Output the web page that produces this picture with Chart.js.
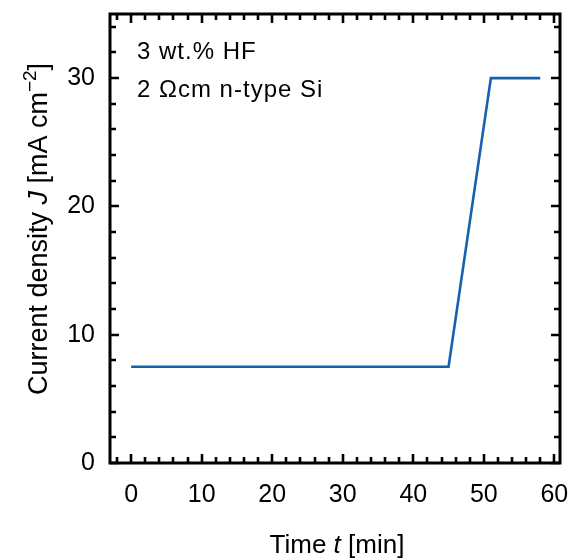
<!DOCTYPE html>
<html>
<head>
<meta charset="utf-8">
<script src="https://cdn.jsdelivr.net/npm/chart.js@4.4.0/dist/chart.umd.min.js"></script>
<style>
html,body{margin:0;padding:0;background:#fff;}
#wrap{width:576px;height:558px;position:relative;}
</style>
</head>
<body>
<div id="wrap"><canvas id="c" width="576" height="558"></canvas></div>
<script>
// Data
const timeMin = [0, 45, 51, 58];
const currentDensity = [7.5, 7.5, 30, 30];
const xTickLabels = [0, 10, 20, 30, 40, 50, 60];
const yTickLabels = [0, 10, 20, 30];
const xMinorTicks = [-2, 2, 4, 6, 8, 12, 14, 16, 18, 22, 24, 26, 28, 32, 34, 36, 38, 42, 44, 46, 48, 52, 54, 56, 58];
const yMinorTicks = [2, 4, 6, 8, 12, 14, 16, 18, 22, 24, 26, 28, 32, 34];
const annotations = ["3 wt.% HF", "2 \u03A9cm n-type Si"];

const FONT = "'Liberation Sans', Arial, sans-serif";

const framePlugin = {
  id: 'frame',
  afterDraw(chart) {
    const ctx = chart.ctx;
    const a = chart.chartArea;
    const xs = chart.scales.x, ys = chart.scales.y;
    ctx.save();
    ctx.strokeStyle = '#000';
    ctx.lineWidth = 2.6;
    ctx.lineCap = 'butt';
    const major = 9, minor = 6;
    ctx.beginPath();
    const xt = (v, len) => {
      const p = Math.round(xs.getPixelForValue(v));
      ctx.moveTo(p, a.bottom); ctx.lineTo(p, a.bottom - len);
      ctx.moveTo(p, a.top); ctx.lineTo(p, a.top + len);
    };
    const yt = (v, len) => {
      const p = Math.round(ys.getPixelForValue(v));
      ctx.moveTo(a.left, p); ctx.lineTo(a.left + len, p);
      ctx.moveTo(a.right, p); ctx.lineTo(a.right - len, p);
    };
    xTickLabels.forEach(v => xt(v, major));
    xMinorTicks.forEach(v => xt(v, minor));
    yTickLabels.forEach(v => yt(v, major));
    yMinorTicks.forEach(v => yt(v, minor));
    ctx.stroke();
    ctx.lineWidth = 3;
    ctx.strokeRect(a.left, a.top, a.right - a.left, a.bottom - a.top);

    ctx.fillStyle = '#000';
    ctx.font = '24px ' + FONT;
    ctx.textAlign = 'left';
    ctx.textBaseline = 'alphabetic';
    ctx.letterSpacing = '1px';
    ctx.fillText(annotations[0], 137, 59);
    ctx.fillText(annotations[1], 137, 97);
    ctx.letterSpacing = '0px';

    const xParts = [["Time ", ''], ["t", 'italic '], [" [min]", '']];
    let total = 0;
    xParts.forEach(p => { ctx.font = p[1] + '26px ' + FONT; total += ctx.measureText(p[0]).width; });
    let x0 = (a.left + a.right) / 2 - total / 2 + 2;
    xParts.forEach(p => { ctx.font = p[1] + '26px ' + FONT; ctx.fillText(p[0], x0, 553); x0 += ctx.measureText(p[0]).width; });

    ctx.translate(47, 229);
    ctx.rotate(-Math.PI / 2);
    const yParts = [["Current density ", '', 27, 0], ["J", 'italic ', 27, 0], [" [mA cm", '', 27, 0], ["\u22122", '', 19, -11], ["]", '', 27, 0]];
    total = 0;
    yParts.forEach(p => { ctx.font = p[1] + p[2] + 'px ' + FONT; total += ctx.measureText(p[0]).width; });
    x0 = -total / 2;
    yParts.forEach(p => { ctx.font = p[1] + p[2] + 'px ' + FONT; ctx.fillText(p[0], x0, p[3]); x0 += ctx.measureText(p[0]).width; });
    ctx.restore();
  }
};

new Chart(document.getElementById('c'), {
  type: 'line',
  data: {
    datasets: [{
      data: timeMin.map((t, i) => ({x: t, y: currentDensity[i]})),
      borderColor: '#1461b0',
      borderWidth: 2.6,
      pointRadius: 0,
      tension: 0,
      fill: false
    }]
  },
  options: {
    responsive: false,
    animation: false,
    devicePixelRatio: 1,
    layout: {padding: {top: 14, right: 16, left: 0, bottom: 0}},
    plugins: {legend: {display: false}, tooltip: {enabled: false}},
    scales: {
      x: {
        type: 'linear', min: -3, max: 60.8,
        grid: {display: false}, border: {display: false},
        afterBuildTicks: s => { s.ticks = xTickLabels.map(v => ({value: v})); },
        afterFit: s => { s.height = 95; s.paddingLeft = 0; s.paddingRight = 0; },
        ticks: {color: '#000', font: {family: FONT, size: 25}, padding: 9, maxRotation: 0, autoSkip: false}
      },
      y: {
        type: 'linear', min: 0, max: 35,
        grid: {display: false}, border: {display: false},
        afterBuildTicks: s => { s.ticks = yTickLabels.map(v => ({value: v})); },
        afterFit: s => { s.width = 110; s.paddingTop = 0; s.paddingBottom = 0; },
        ticks: {color: '#000', font: {family: FONT, size: 25}, padding: 7, autoSkip: false}
      }
    }
  },
  plugins: [framePlugin]
});
</script>
</body>
</html>
